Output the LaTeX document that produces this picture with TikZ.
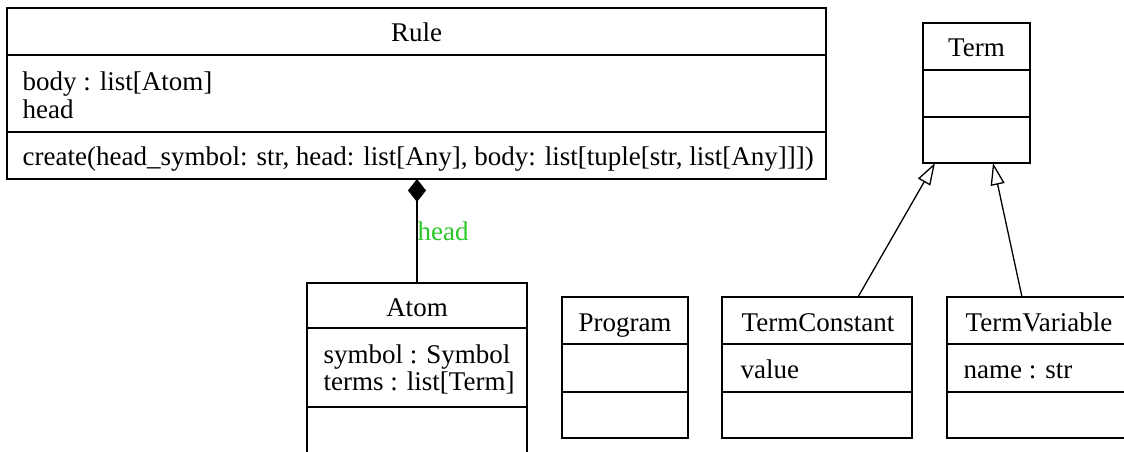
\documentclass[tikz,border=0pt]{standalone}
\usepackage{fontspec}
\setmainfont{Liberation Serif}
\usetikzlibrary{arrows.meta}
\definecolor{labelgreen}{RGB}{40,200,40}
\begin{document}
\begin{tikzpicture}[x=1pt,y=-1pt,line width=1.3pt,
  box/.style={draw,line width=1.3pt,anchor=north west,inner sep=0pt,outer sep=0pt},
  txt/.style={anchor=base west,inner sep=0pt,font=\fontsize{27}{30}\selectfont},
  ttl/.style={anchor=base,inner sep=0pt,font=\fontsize{27}{30}\selectfont},
  comp/.style={{Diamond[length=23pt,width=18pt]}-,line width=1.3pt},
  inh/.style={-{Triangle[open,length=22pt,width=14pt]},line width=1.3pt}]
\useasboundingbox (0,0) rectangle (1124,452);
\clip (0,0) rectangle (1124,452);
% Rule
\node[box,minimum width=819pt,minimum height=171pt] (rule) at (7,8) {};
\draw (rule.west |- 0,55) -- (rule.east |- 0,55);
\draw (rule.west |- 0,132) -- (rule.east |- 0,132);
\node[ttl] (ruleT) at (416.5,42) {Rule};
\node[txt] (ruleA1) at (22,90) {body : list[Atom]};
\node[txt] (ruleA2) at (22,118) {head};
\node[txt] (ruleM1) at (22,165) {create(head\_symbol: str, head: list[Any], body: list[tuple[str, list[Any]]])};
% Term
\node[box,minimum width=107pt,minimum height=140pt] (term) at (923,23) {};
\draw (term.west |- 0,70) -- (term.east |- 0,70);
\draw (term.west |- 0,117) -- (term.east |- 0,117);
\node[ttl] (termT) at (976.5,57) {Term};
% Atom
\node[box,minimum width=220pt,minimum height=175pt] (atom) at (307,283) {};
\draw (atom.west |- 0,328) -- (atom.east |- 0,328);
\draw (atom.west |- 0,407) -- (atom.east |- 0,407);
\node[ttl] (atomT) at (417,316) {Atom};
\node[txt] (atomA1) at (323,363) {symbol : Symbol};
\node[txt] (atomA2) at (323,390) {terms : list[Term]};
% Program
\node[box,minimum width=126pt,minimum height=141pt] (prog) at (562,297) {};
\draw (prog.west |- 0,344) -- (prog.east |- 0,344);
\draw (prog.west |- 0,392) -- (prog.east |- 0,392);
\node[ttl] (progT) at (625,331) {Program};
% TermConstant
\node[box,minimum width=190pt,minimum height=141pt] (tc) at (722,297) {};
\draw (tc.west |- 0,344) -- (tc.east |- 0,344);
\draw (tc.west |- 0,392) -- (tc.east |- 0,392);
\node[ttl] (tcT) at (818,331) {TermConstant};
\node[txt] (tcA1) at (740,378) {value};
% TermVariable
\node[box,minimum width=186pt,minimum height=141pt] (tv) at (947,297) {};
\draw (tv.west |- 0,344) -- (tv.east |- 0,344);
\draw (tv.west |- 0,392) -- (tv.east |- 0,392);
\node[ttl] (tvT) at (1039,331) {TermVariable};
\node[txt] (tvA1) at (963,378) {name : str};
% connectors
\draw[comp] (atom.north |- rule.south) -- (atom.north);
\node[txt,text=labelgreen] (lbl) at (417,240) {head};
\draw[inh] ([xshift=136pt]tc.north west) -- ([xshift=12pt]term.south west);
\draw[inh] ([xshift=75pt]tv.north west) -- ([xshift=70pt]term.south west);
\end{tikzpicture}
\end{document}
